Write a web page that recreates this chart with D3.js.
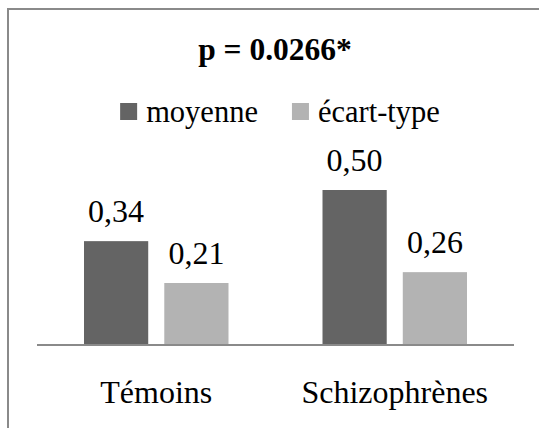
<!DOCTYPE html>
<html>
<head>
<meta charset="utf-8">
<script src="https://cdn.jsdelivr.net/npm/d3@7"></script>
<style>
  html, body { margin: 0; padding: 0; background: #fff; }
  svg { display: block; }
  svg text { font-family: "Liberation Serif", "Times New Roman", Times, "DejaVu Serif", serif; }
</style>
</head>
<body>
<svg id="chart" width="539" height="428"></svg>
<script>
// ---- data ----
const categories = ["Témoins", "Schizophrènes"];
const seriesNames = ["moyenne", "écart-type"];
const moyenne = [0.335, 0.50];
const ecartType = [0.20, 0.235];
const moyenneLabels = ["0,34", "0,50"];
const ecartTypeLabels = ["0,21", "0,26"];
const title = "p = 0.0266*";
const colors = ["#646464", "#b3b3b3"];

const series = [
  { name: seriesNames[0], values: moyenne, labels: moyenneLabels },
  { name: seriesNames[1], values: ecartType, labels: ecartTypeLabels }
];

const svg = d3.select("#chart");
const font = '"Liberation Serif", "Times New Roman", Times, "DejaVu Serif", serif';

// chart frame (extends beyond the right/bottom edges)
svg.append("rect")
  .attr("x", 8).attr("y", 9)
  .attr("width", 600).attr("height", 600)
  .attr("fill", "#fff")
  .attr("stroke", "#8a8a8a").attr("stroke-width", 2);

// scales
const plotLeft = 37, plotRight = 514, baseY = 345;
const x0 = d3.scaleBand().domain(categories).range([plotLeft, plotRight]).paddingInner(0).paddingOuter(0);
const x1 = d3.scaleBand().domain(seriesNames).range([47, x0.bandwidth() - 47]).paddingInner(0.2);
const y = d3.scaleLinear().domain([0, 0.5]).range([baseY, 190]);

// bars
const groups = svg.append("g").selectAll("g")
  .data(categories)
  .join("g")
  .attr("transform", d => `translate(${x0(d)},0)`);

groups.selectAll("rect")
  .data((d, i) => series.map(s => ({ s: s.name, v: s.values[i], l: s.labels[i] })))
  .join("rect")
  .attr("x", d => x1(d.s))
  .attr("y", d => y(d.v))
  .attr("width", x1.bandwidth())
  .attr("height", d => y(0) - y(d.v))
  .attr("fill", (d, j) => colors[j]);

groups.selectAll("text.lbl")
  .data((d, i) => series.map(s => ({ s: s.name, v: s.values[i], l: s.labels[i] })))
  .join("text")
  .attr("class", "lbl")
  .attr("x", d => x1(d.s) + x1.bandwidth() / 2)
  .attr("y", d => y(d.v) - 19)
  .attr("text-anchor", "middle")
  .style("font-family", font)
  .attr("font-size", 32)
  .attr("fill", "#000")
  .text(d => d.l);

// category axis
const xAxis = svg.append("g")
  .attr("transform", `translate(0,${baseY})`)
  .call(d3.axisBottom(x0).tickSize(0).tickPadding(58));
xAxis.attr("font-family", null).style("font-family", font);
xAxis.select(".domain").attr("stroke", "#8a8a8a").attr("stroke-width", 2)
  .attr("d", `M${plotLeft},0H${plotRight}`);
xAxis.selectAll("text")
  .style("font-family", font)
  .attr("font-size", 32)
  .attr("fill", "#000")
  .attr("dy", 0);

// title
svg.append("text")
  .attr("x", 275).attr("y", 60)
  .attr("text-anchor", "middle")
  .style("font-family", font)
  .attr("font-weight", "bold")
  .attr("font-size", 31.5)
  .attr("fill", "#000")
  .text(title);

// legend
const legend = svg.append("g");
const items = legend.selectAll("g").data(series).join("g");
items.append("rect")
  .attr("width", 17).attr("height", 17)
  .attr("y", 103)
  .attr("fill", (d, i) => colors[i]);
items.append("text")
  .attr("x", 26).attr("y", 122)
  .style("font-family", font)
  .attr("font-size", 30.5)
  .attr("fill", "#000")
  .text(d => d.name);
const widths = [];
items.each(function () {
  widths.push(26 + d3.select(this).select("text").node().getComputedTextLength());
});
const gap = 34;
const total = d3.sum(widths) + gap * (widths.length - 1);
let start = 280 - total / 2;
items.attr("transform", (d, i) => {
  const t = `translate(${start},0)`;
  start += widths[i] + gap;
  return t;
});
</script>
</body>
</html>
